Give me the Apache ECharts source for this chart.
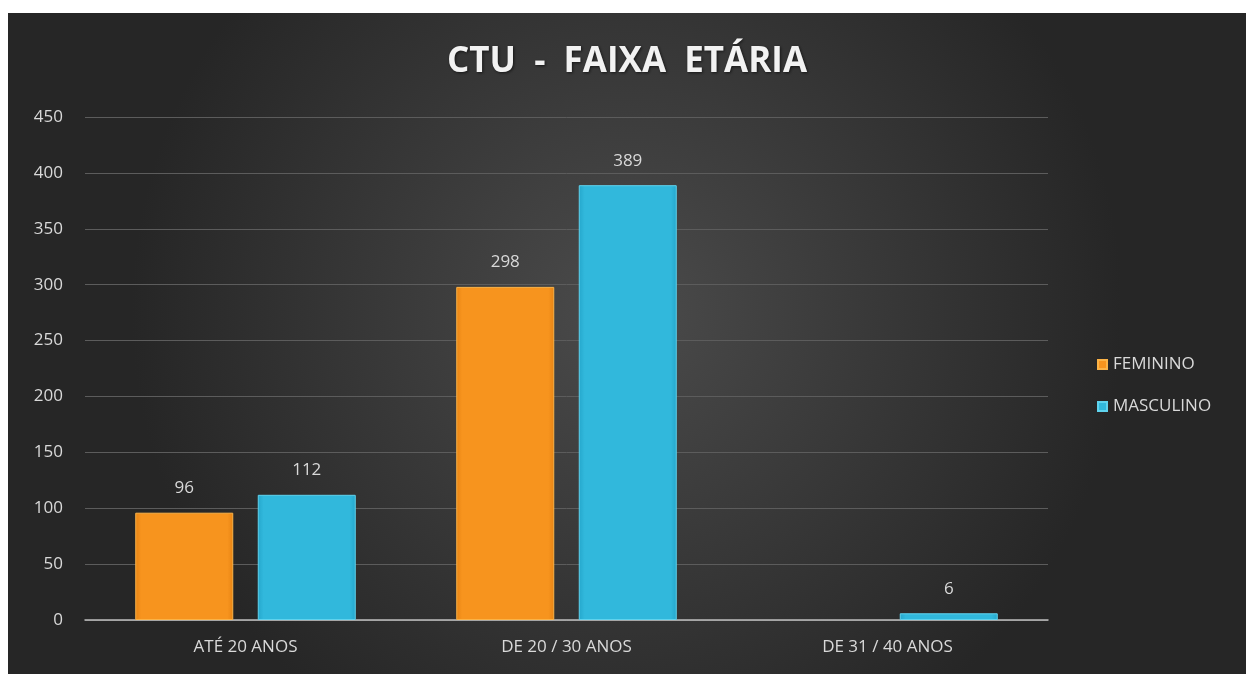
<!DOCTYPE html>
<html lang="pt">
<head>
    <meta charset="UTF-8">
    <script src="https://cdn.jsdelivr.net/npm/echarts@6/dist/echarts.min.js"></script>
    <title>CTU - Faixa Etária</title>
    <style>
        html, body {
            margin: 0;
            padding: 0;
            background: #fff;
        }

        #chart {
            position: absolute;
            left: 8px;
            top: 13px;
            width: 1238px;
            height: 661px;
        }
    </style>
</head>
<body>
    <div id="chart"></div>
    <script>
        var categories = ['ATÉ 20 ANOS', 'DE 20 / 30 ANOS', 'DE 31 / 40 ANOS'];
        var feminino = [96, 298, null];
        var masculino = [112, 389, 6];
        var yTicks = { min: 0, max: 450, interval: 50 };

        var font = '"Open Sans", "Noto Sans", sans-serif';
        var labelColor = '#d9d9d9';

        // darker strip on the edges to fake the bevel
        function barColor(edge, mid) {
            return new echarts.graphic.LinearGradient(0, 0, 1, 0, [
                { offset: 0, color: edge },
                { offset: 0.06, color: mid },
                { offset: 0.94, color: mid },
                { offset: 1, color: edge }
            ]);
        }

        var myChart = echarts.init(document.getElementById('chart'));
        var option = {
            backgroundColor: new echarts.graphic.RadialGradient(0.5, 0.45, 0.75, [
                { offset: 0, color: '#4b4b4b' },
                { offset: 1, color: '#262626' }
            ]),
            animation: false,
            title: {
                text: 'CTU  -  FAIXA  ETÁRIA',
                left: 'center',
                top: 27,
                textStyle: {
                    color: '#f2f2f2',
                    fontSize: 35,
                    fontWeight: 'bold',
                    fontFamily: font,
                    textShadowColor: 'rgba(0,0,0,0.6)',
                    textShadowBlur: 3,
                    textShadowOffsetX: 1,
                    textShadowOffsetY: 1
                }
            },
            legend: {
                orient: 'vertical',
                left: 1084,
                top: 338,
                itemWidth: 9,
                itemHeight: 9,
                itemGap: 25,
                icon: 'rect',
                textStyle: {
                    color: labelColor,
                    fontSize: 17,
                    fontFamily: font,
                    padding: [0, 0, 0, 1]
                },
                data: ['FEMININO', 'MASCULINO']
            },
            grid: {
                left: 77,
                right: 198,
                top: 104,
                bottom: 54
            },
            xAxis: {
                type: 'category',
                data: categories,
                axisLine: { lineStyle: { color: '#bfbfbf', width: 1.5 } },
                axisTick: { show: false },
                axisLabel: {
                    color: labelColor,
                    fontSize: 17,
                    fontFamily: font,
                    margin: 19
                }
            },
            yAxis: {
                type: 'value',
                min: yTicks.min,
                max: yTicks.max,
                interval: yTicks.interval,
                axisLine: { show: false },
                axisTick: { show: false },
                axisLabel: {
                    color: labelColor,
                    fontSize: 17,
                    fontFamily: font,
                    margin: 22
                },
                splitLine: { lineStyle: { color: '#5c5c5c', width: 1 } }
            },
            series: [
                {
                    name: 'FEMININO',
                    type: 'bar',
                    data: feminino,
                    barWidth: 98,
                    barGap: '25%',
                    itemStyle: {
                        color: barColor('#e88414', '#f7941e'),
                        borderColor: '#fbb347',
                        borderWidth: 1
                    },
                    label: {
                        show: true,
                        position: 'top',
                        distance: 16,
                        color: labelColor,
                        fontSize: 17,
                        fontFamily: font
                    }
                },
                {
                    name: 'MASCULINO',
                    type: 'bar',
                    data: masculino,
                    barWidth: 98,
                    itemStyle: {
                        color: barColor('#25a7cc', '#31b8dc'),
                        borderColor: '#5fd3ee',
                        borderWidth: 1
                    },
                    label: {
                        show: true,
                        position: 'top',
                        distance: 16,
                        color: labelColor,
                        fontSize: 17,
                        fontFamily: font
                    }
                }
            ]
        };
        myChart.setOption(option);
    </script>
</body>
</html>
